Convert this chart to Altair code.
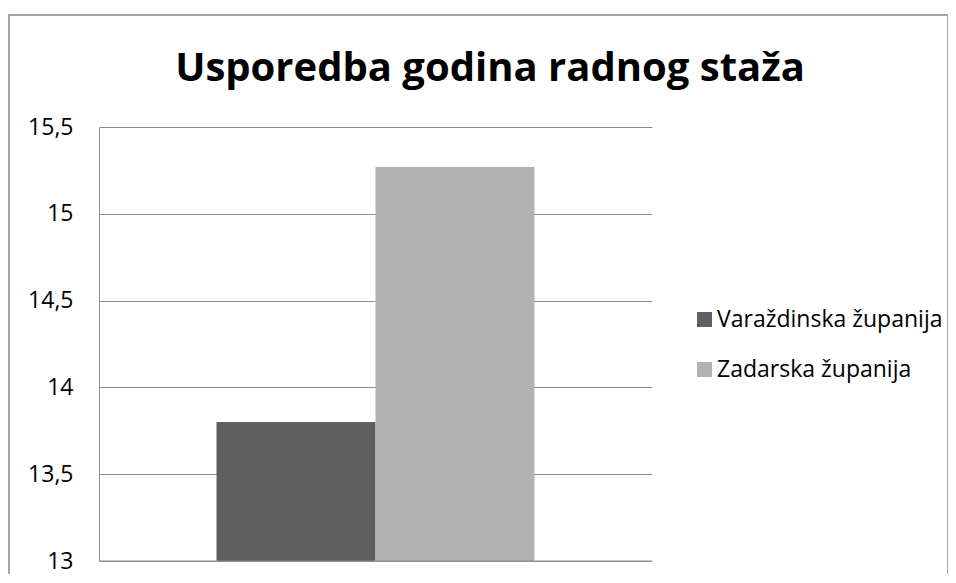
import altair as alt
import pandas as pd

series = ["Varaždinska županija", "Zadarska županija"]
values = [13.8, 15.27]
colors = ["#606060", "#b2b2b2"]
y_ticks = [13, 13.5, 14, 14.5, 15, 15.5]
title_text = "Usporedba godina radnog staža"

df = pd.DataFrame({"serija": series, "vrijednost": values})

FONT = "Open Sans"
W, H = 553, 434

bars = alt.Chart(df).mark_bar(clip=True).encode(
    x=alt.X("serija:N", sort=series, axis=None,
            scale=alt.Scale(paddingInner=0, paddingOuter=0.739)),
    y=alt.Y("vrijednost:Q",
            scale=alt.Scale(domain=[13, 15.5], nice=False, zero=False),
            axis=alt.Axis(values=y_ticks, title=None, ticks=False,
                          labelExpr="replace(toString(datum.value), '.', ',')",
                          labelFont=FONT, labelFontSize=23, labelColor="#000000",
                          labelPadding=26, grid=True, gridColor="#8e8e8e",
                          gridWidth=1, domain=True, domainColor="#8e8e8e",
                          domainWidth=1)),
    y2=alt.datum(13),
    color=alt.Color("serija:N", sort=series,
                    scale=alt.Scale(domain=series, range=colors),
                    legend=alt.Legend(title=None, orient="none", legendX=594,
                                      legendY=181, symbolType="square",
                                      symbolSize=225, symbolStrokeWidth=0,
                                      labelFont=FONT, labelFontSize=23,
                                      labelLimit=400,
                                      labelColor="#000000", labelOffset=1,
                                      rowPadding=26)),
)

bottom_axis = alt.Chart(alt.Data(values=[{}])).mark_rule(color="#8e8e8e", strokeWidth=1).encode(
    x=alt.value(0), x2=alt.value(W), y=alt.value(H)
)

frame = alt.Chart(alt.Data(values=[{}])).mark_rect(
    filled=False, stroke="#898989", strokeWidth=1.5
).encode(
    x=alt.value(-90), x2=alt.value(849), y=alt.value(-112), y2=alt.value(600)
)

title = alt.Chart(alt.Data(values=[{"t": title_text}])).mark_text(
    font=FONT, fontSize=40, fontWeight="bold", color="#000000",
    align="center", baseline="alphabetic"
).encode(
    text="t:N", x=alt.value(391), y=alt.value(-46)
)

chart = alt.layer(frame, bars, bottom_axis, title).properties(
    width=W, height=H,
    padding={"left": 91, "top": 119, "right": 296, "bottom": 13},
    autosize=alt.AutoSizeParams(type="none"),
).configure_view(stroke=None).configure_axis(domain=False)

chart.save("out.html", embed_options={"renderer": "svg", "actions": False})
